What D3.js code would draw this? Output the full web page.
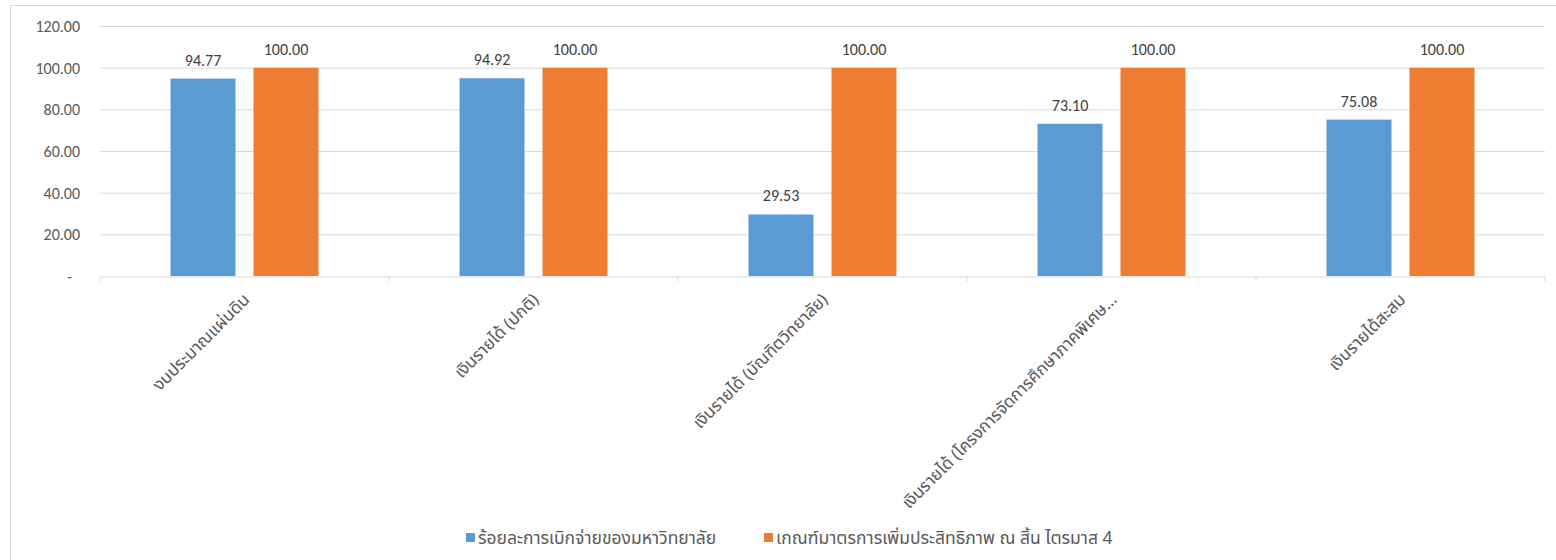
<!doctype html>
<html>
<head>
	<meta charset="utf-8">
	<title>ร้อยละการเบิกจ่าย</title>
	<script src="https://cdn.jsdelivr.net/npm/d3@7"></script>
	<style>
		body { margin: 0; background: #fff; }
		text { fill: #595959; }
	</style>
</head>
<body>
	<script>
		var categories = [
			"งบประมาณแผ่นดิน",
			"เงินรายได้ (ปกติ)",
			"เงินรายได้ (บัณฑิตวิทยาลัย)",
			"เงินรายได้ (โครงการจัดการศึกษาภาคพิเศษ…",
			"เงินรายได้สะสม"
		];
		var seriesNames = [
			"ร้อยละการเบิกจ่ายของมหาวิทยาลัย",
			"เกณฑ์มาตรการเพิ่มประสิทธิภาพ ณ สิ้น ไตรมาส 4"
		];
		var disbursed = [94.77, 94.92, 29.53, 73.10, 75.08];
		var target = [100, 100, 100, 100, 100];
		var yTicks = [0, 20, 40, 60, 80, 100, 120];

		var width = 1556;
		var height = 560;
		var colors = ["#5B9BD5", "#ED7D31"];
		var thaiFont = "Tahoma, 'Noto Sans Thai', 'Noto Sans', 'DejaVu Sans', sans-serif";
		var numFont = "Carlito, Calibri, 'Liberation Sans', sans-serif";

		var rows = categories.map(function(c, i) {
			return { cat: c, values: [disbursed[i], target[i]] };
		});

		var svg = d3.select("body")
			.append("svg")
			.attr("width", width)
			.attr("height", height);

		// chart frame
		svg.append("rect")
			.attr("x", 10.5)
			.attr("y", 5.5)
			.attr("width", width)
			.attr("height", height)
			.attr("fill", "none")
			.attr("stroke", "#d9d9d9");

		var x = d3.scaleBand()
			.domain(categories)
			.range([100, 1545]);

		var xInner = d3.scaleBand()
			.domain([0, 1])
			.range([0, x.bandwidth()])
			.paddingInner(0.217)
			.paddingOuter(0.85);

		var y = d3.scaleLinear()
			.domain([0, 120])
			.range([276, 26]);

		// gridlines
		svg.append("g")
			.selectAll("line")
			.data(yTicks.slice(1))
			.enter()
				.append("line")
				.attr("x1", 100)
				.attr("x2", 1545)
				.attr("y1", function(d) { return y(d) + 0.5; })
				.attr("y2", function(d) { return y(d) + 0.5; })
				.attr("stroke", "#d9d9d9");

		// y axis labels
		var yAxis = d3.axisLeft(y)
			.tickValues(yTicks)
			.tickSize(0)
			.tickPadding(20)
			.tickFormat(function(d) { return d === 0 ? "-" : d3.format(".2f")(d); });

		var gy = svg.append("g")
			.attr("transform", "translate(100,0.5)")
			.call(yAxis);
		gy.select(".domain").remove();
		gy.selectAll("text")
			.attr("fill", "#595959")
			.style("font-family", numFont)
			.style("font-size", "16px");
		gy.selectAll(".tick")
			.filter(function(d) { return d === 0; })
			.select("text")
			.attr("x", -28);

		// bars
		var groups = svg.append("g")
			.selectAll("g")
			.data(rows)
			.enter()
				.append("g")
				.attr("transform", function(d) { return "translate(" + x(d.cat) + ",0)"; });

		groups.selectAll("rect")
			.data(function(d) { return d.values; })
			.enter()
				.append("rect")
				.attr("x", function(d, i) { return xInner(i); })
				.attr("y", function(d) { return y(d); })
				.attr("width", xInner.bandwidth())
				.attr("height", function(d) { return y(0) - y(d); })
				.attr("fill", function(d, i) { return colors[i]; });

		groups.selectAll("text")
			.data(function(d) { return d.values; })
			.enter()
				.append("text")
				.attr("x", function(d, i) { return xInner(i) + xInner.bandwidth() / 2; })
				.attr("y", function(d) { return y(d) - 13; })
				.attr("text-anchor", "middle")
				.style("fill", "#404040")
				.style("font-family", numFont)
				.style("font-size", "16px")
				.text(function(d) { return d3.format(".2f")(d); });

		// x axis
		var xAxis = d3.axisBottom(x)
			.tickSize(0)
			.tickPadding(0);

		var gx = svg.append("g")
			.attr("transform", "translate(0," + (y(0) + 0.5) + ")")
			.call(xAxis);
		gx.select(".domain").attr("stroke", "#d9d9d9");
		gx.selectAll(".tick text")
			.attr("transform", "translate(2,20) rotate(-45)")
			.attr("y", 0)
			.attr("dy", "0.35em")
			.attr("text-anchor", "end")
			.attr("fill", "#595959")
			.style("font-family", thaiFont)
			.style("font-size", "17px");

		// category separators
		gx.selectAll(".sep")
			.data(categories.concat([null]))
			.enter()
				.append("line")
				.attr("class", "sep")
				.attr("x1", function(d) { return d === null ? 1545 : x(d); })
				.attr("x2", function(d) { return d === null ? 1545 : x(d); })
				.attr("y1", 0)
				.attr("y2", 5)
				.attr("stroke", "#d9d9d9");

		// legend
		var legendX = [466, 764];
		var legend = svg.append("g")
			.selectAll("g")
			.data(seriesNames)
			.enter()
				.append("g")
				.attr("transform", function(d, i) { return "translate(" + legendX[i] + ",533)"; });

		legend.append("rect")
			.attr("width", 9)
			.attr("height", 9)
			.attr("fill", function(d, i) { return colors[i]; });

		legend.append("text")
			.attr("x", 12)
			.attr("y", 11)
			.style("font-family", thaiFont)
			.style("font-size", "17.5px")
			.text(function(d) { return d; });
	</script>
</body>
</html>
